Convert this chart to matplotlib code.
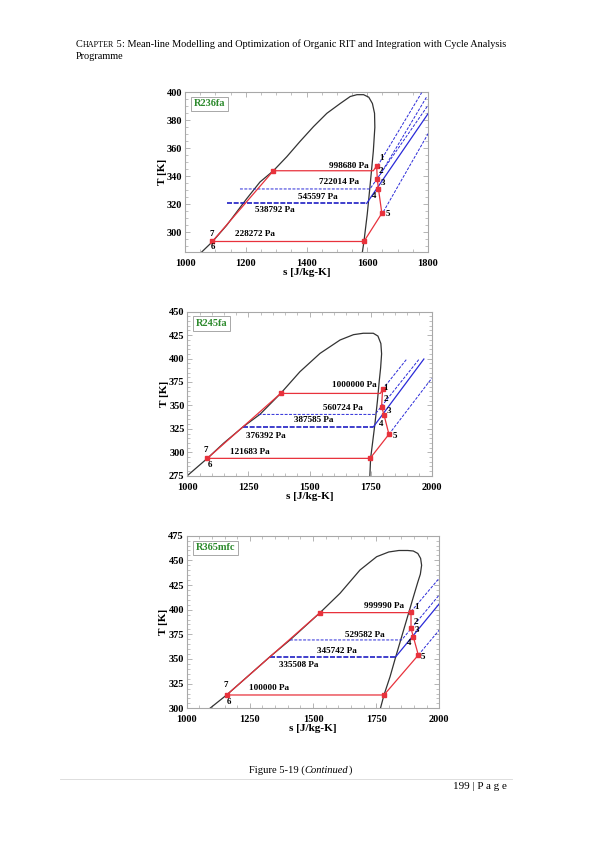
import matplotlib
matplotlib.use("Agg")
import matplotlib.pyplot as plt
from matplotlib.ticker import MultipleLocator

# ===================================================
# Data (s in J/kg-K, T in K)
# ===================================================

# --- R236fa ---
R236FA_DOME_S = [1055, 1090, 1137, 1203, 1247, 1291, 1335, 1379, 1423, 1467, 1511, 1544,
                 1566, 1588, 1605, 1617, 1624, 1625, 1620, 1610, 1600, 1589, 1584]
R236FA_DOME_T = [286, 293.3, 305, 324, 336, 344, 354, 365, 375.5, 385, 392, 397,
                 398.3, 398.3, 396.5, 392, 385, 375, 358, 335, 313, 293.3, 286]
R236FA_CYCLE_S = [1090, 1291, 1620, 1631, 1633, 1637, 1648, 1589, 1090]
R236FA_CYCLE_T = [293.5, 344, 344, 347.5, 338, 331, 313.6, 293.5, 293.5]
R236FA_MARK_S = [1090, 1291, 1631, 1633, 1637, 1648, 1589]
R236FA_MARK_T = [293.5, 344, 347.5, 338, 331, 313.6, 293.5]
R236FA_ISO_722_S = [1181, 1609, 1801]
R236FA_ISO_722_T = [331, 331, 391]
R236FA_ISO_545_S = [1137, 1598]
R236FA_ISO_545_T = [320.7, 320.7]
R236FA_DIAG_545_S = [1598, 1801]
R236FA_DIAG_545_T = [320.7, 385]
R236FA_DIAG_HI_S = [1634, 1779]
R236FA_DIAG_HI_T = [347.4, 399.7]
R236FA_DIAG_2_S = [1642, 1796]
R236FA_DIAG_2_T = [341, 396.9]
R236FA_DIAG_LO_S = [1653, 1801]
R236FA_DIAG_LO_T = [314.7, 370.7]
R236FA_PRESS = ["998680 Pa", "722014 Pa", "545597 Pa", "538792 Pa", "228272 Pa"]
R236FA_PRESS_S = [1540, 1507, 1436, 1296, 1229]
R236FA_PRESS_T = [347.4, 335.7, 325.2, 316, 298.8]
R236FA_NUM = ["1", "2", "3", "4", "5", "7", "6"]
R236FA_NUM_S = [1647, 1645, 1653, 1623, 1667, 1088, 1093]
R236FA_NUM_T = [352.9, 343.8, 335, 326, 313, 298.8, 289.8]

# --- R245fa ---
R245FA_DOME_S = [1000, 1082, 1150, 1229, 1297, 1382, 1461, 1543, 1625, 1680, 1720, 1761,
                 1780, 1792, 1795, 1791, 1785, 1778, 1768, 1758, 1750, 1747]
R245FA_DOME_T = [275, 293.5, 310, 327.3, 340.4, 362.8, 386, 405.5, 419.8, 425.5, 427, 427,
                 424, 416, 405, 390, 375, 355, 331, 310, 293.5, 275]
R245FA_CYCLE_S = [1082, 1382, 1790, 1799, 1795, 1805, 1825, 1748, 1082]
R245FA_CYCLE_T = [293.5, 362.8, 362.8, 367.2, 348.6, 339.8, 319.2, 293.5, 293.5]
R245FA_MARK_S = [1082, 1382, 1799, 1795, 1805, 1825, 1748]
R245FA_MARK_T = [293.5, 362.8, 367.2, 348.6, 339.8, 319.2, 293.5]
R245FA_ISO_560_S = [1291, 1768, 1949]
R245FA_ISO_560_T = [340.4, 340.4, 399.5]
R245FA_ISO_387_S = [1229, 1761]
R245FA_ISO_387_T = [327, 327]
R245FA_DIAG_387_S = [1761, 1968]
R245FA_DIAG_387_T = [327, 399.5]
R245FA_DIAG_HI_S = [1799, 1898]
R245FA_DIAG_HI_T = [367.2, 399.5]
R245FA_DIAG_LO_S = [1825, 2000]
R245FA_DIAG_LO_T = [319.2, 378.9]
R245FA_PRESS = ["1000000 Pa", "560724 Pa", "387585 Pa", "376392 Pa", "121683 Pa"]
R245FA_PRESS_S = [1682, 1638, 1518, 1322, 1254]
R245FA_PRESS_T = [371.7, 347.5, 334.4, 317.3, 299.9]
R245FA_NUM = ["1", "2", "3", "4", "5", "7", "6"]
R245FA_NUM_S = [1813, 1813, 1825, 1793, 1850, 1076, 1093]
R245FA_NUM_T = [368.2, 356.8, 344, 330, 317.3, 302.4, 286.4]

# --- R365mfc ---
R365MFC_DOME_S = [1092, 1158, 1240, 1330, 1409, 1528, 1607, 1686, 1752, 1800, 1840, 1875,
                  1897, 1915, 1926, 1930, 1925, 1915, 1894, 1871, 1848, 1825, 1805, 1781, 1767]
R365MFC_DOME_T = [300, 313.5, 332, 352.4, 369.3, 397, 416.6, 440.2, 453.7, 458.5, 460, 460,
                  459.5, 457, 452, 445, 436, 428, 410, 390, 370, 350, 332, 313.5, 300]
R365MFC_CYCLE_S = [1158, 1528, 1884, 1888, 1888, 1897, 1917, 1781, 1158]
R365MFC_CYCLE_T = [313.5, 397, 397, 398, 381.1, 372.6, 354, 313.5, 313.5]
R365MFC_MARK_S = [1158, 1528, 1888, 1888, 1897, 1917, 1781]
R365MFC_MARK_T = [313.5, 397, 398, 381.1, 372.6, 354, 313.5]
R365MFC_ISO_999_S = [1646, 1884]
R365MFC_ISO_999_T = [397.3, 397.3]
R365MFC_ISO_529_S = [1409, 1851, 2000]
R365MFC_ISO_529_T = [369.3, 369.3, 415]
R365MFC_ISO_345_S = [1330, 1828]
R365MFC_ISO_345_T = [352.4, 352.4]
R365MFC_DIAG_345_S = [1828, 2000]
R365MFC_DIAG_345_T = [352.4, 406]
R365MFC_DIAG_HI_S = [1888, 2000]
R365MFC_DIAG_HI_T = [398, 432]
R365MFC_DIAG_LO_S = [1917, 2000]
R365MFC_DIAG_LO_T = [354, 379.4]
R365MFC_PRESS = ["999990 Pa", "529582 Pa", "345742 Pa", "335508 Pa", "100000 Pa"]
R365MFC_PRESS_S = [1780, 1706, 1595, 1445, 1326]
R365MFC_PRESS_T = [404, 374.3, 358, 343.9, 320.3]
R365MFC_NUM = ["1", "2", "3", "4", "5", "7", "6"]
R365MFC_NUM_S = [1910, 1906, 1913, 1880, 1937, 1156, 1168]
R365MFC_NUM_T = [402.4, 387.8, 379.4, 366, 352.3, 323.6, 306.8]

# ===================================================
# Style
# ===================================================

SERIF = "Liberation Serif"
RED = "#e8323c"
BLUE = "#2a2ad8"
DOME = "#333333"
FRAME = "#a8a8a8"

W, H = 595, 842
fig = plt.figure(figsize=(W / 100, H / 100), dpi=100)


def px_axes(left, top, right, bottom):
    return fig.add_axes([left / W, 1 - bottom / H, (right - left) / W, (bottom - top) / H])


def style_axes(ax, xlim, ylim, xstep, ystep, xminor, yminor):
    ax.set_xlim(*xlim)
    ax.set_ylim(*ylim)
    ax.xaxis.set_major_locator(MultipleLocator(xstep))
    ax.yaxis.set_major_locator(MultipleLocator(ystep))
    ax.xaxis.set_minor_locator(MultipleLocator(xminor))
    ax.yaxis.set_minor_locator(MultipleLocator(yminor))
    ax.tick_params(which="both", direction="in", top=True, right=True, color=FRAME,
                   labelsize=7.5)
    ax.tick_params(axis="x", pad=5)
    ax.tick_params(axis="y", pad=2)
    ax.tick_params(which="major", length=3.5, width=0.6)
    ax.tick_params(which="minor", length=2, width=0.5)
    for lab in ax.get_xticklabels() + ax.get_yticklabels():
        lab.set_fontfamily(SERIF)
        lab.set_fontweight("bold")
    for sp in ax.spines.values():
        sp.set_color(FRAME)
        sp.set_linewidth(0.8)
    ax.set_xlabel("s [J/kg-K]", family=SERIF, fontweight="bold", fontsize=8, labelpad=0)
    ax.set_ylabel("T [K]", family=SERIF, fontweight="bold", fontsize=8, labelpad=0)


def draw_panel(ax, name, dome, cycle, marks, dashed, thick, solid, press, nums):
    ax.plot(dome[0], dome[1], color=DOME, lw=0.9, zorder=2)
    for s, t in dashed:
        ax.plot(s, t, color=BLUE, lw=0.7, ls=(0, (3, 1.5)), zorder=3)
    for s, t in thick:
        ax.plot(s, t, color="#1e1ec4", lw=1.2, ls=(0, (3, 1)), zorder=3)
    for s, t in solid:
        ax.plot(s, t, color=BLUE, lw=0.9, zorder=3)
    ax.plot(cycle[0], cycle[1], color=RED, lw=0.9, zorder=4)
    ax.plot(marks[0], marks[1], ls="none", marker="s", ms=2.6, color=RED, zorder=5)
    for lab, s, t in zip(*press):
        ax.text(s, t, lab, ha="center", va="center", family=SERIF, fontweight="bold",
                fontsize=6.6, zorder=6)
    for lab, s, t in zip(*nums):
        ax.text(s, t, lab, ha="center", va="center", family=SERIF, fontweight="bold",
                fontsize=6.5, zorder=6)
    ax.text(0.035, 0.955, name, transform=ax.transAxes, ha="left", va="top", family=SERIF,
            fontweight="bold", fontsize=7.5, color="#2d8a2d", zorder=7,
            bbox=dict(boxstyle="square,pad=0.25", fc="white", ec=FRAME, lw=0.7))


# --- Panel 1: R236fa ---
ax1 = px_axes(185, 92.3, 428, 252)
draw_panel(
    ax1, "R236fa",
    (R236FA_DOME_S, R236FA_DOME_T),
    (R236FA_CYCLE_S, R236FA_CYCLE_T),
    (R236FA_MARK_S, R236FA_MARK_T),
    [(R236FA_ISO_722_S, R236FA_ISO_722_T), (R236FA_DIAG_HI_S, R236FA_DIAG_HI_T),
     (R236FA_DIAG_2_S, R236FA_DIAG_2_T), (R236FA_DIAG_LO_S, R236FA_DIAG_LO_T)],
    [(R236FA_ISO_545_S, R236FA_ISO_545_T)],
    [(R236FA_DIAG_545_S, R236FA_DIAG_545_T)],
    (R236FA_PRESS, R236FA_PRESS_S, R236FA_PRESS_T),
    (R236FA_NUM, R236FA_NUM_S, R236FA_NUM_T),
)
style_axes(ax1, (1000, 1800), (286, 400), 200, 20, 50, 5)

# --- Panel 2: R245fa ---
ax2 = px_axes(187.3, 311.7, 431.7, 475.7)
draw_panel(
    ax2, "R245fa",
    (R245FA_DOME_S, R245FA_DOME_T),
    (R245FA_CYCLE_S, R245FA_CYCLE_T),
    (R245FA_MARK_S, R245FA_MARK_T),
    [(R245FA_ISO_560_S, R245FA_ISO_560_T), (R245FA_DIAG_HI_S, R245FA_DIAG_HI_T),
     (R245FA_DIAG_LO_S, R245FA_DIAG_LO_T)],
    [(R245FA_ISO_387_S, R245FA_ISO_387_T)],
    [(R245FA_DIAG_387_S, R245FA_DIAG_387_T)],
    (R245FA_PRESS, R245FA_PRESS_S, R245FA_PRESS_T),
    (R245FA_NUM, R245FA_NUM_S, R245FA_NUM_T),
)
style_axes(ax2, (1000, 2000), (275, 450), 250, 25, 50, 5)

# --- Panel 3: R365mfc ---
ax3 = px_axes(186.7, 535.7, 439.3, 708.3)
draw_panel(
    ax3, "R365mfc",
    (R365MFC_DOME_S, R365MFC_DOME_T),
    (R365MFC_CYCLE_S, R365MFC_CYCLE_T),
    (R365MFC_MARK_S, R365MFC_MARK_T),
    [(R365MFC_ISO_999_S, R365MFC_ISO_999_T), (R365MFC_ISO_529_S, R365MFC_ISO_529_T),
     (R365MFC_DIAG_HI_S, R365MFC_DIAG_HI_T), (R365MFC_DIAG_LO_S, R365MFC_DIAG_LO_T)],
    [(R365MFC_ISO_345_S, R365MFC_ISO_345_T)],
    [(R365MFC_DIAG_345_S, R365MFC_DIAG_345_T)],
    (R365MFC_PRESS, R365MFC_PRESS_S, R365MFC_PRESS_T),
    (R365MFC_NUM, R365MFC_NUM_S, R365MFC_NUM_T),
)
style_axes(ax3, (1000, 2000), (300, 475), 250, 25, 50, 5)

# ===================================================
# Page text (header, caption, footer)
# ===================================================

renderer = fig.canvas.get_renderer()


def run_text(x, y, pieces):
    # place text pieces one after another on a baseline (pixel coords, y from top)
    for txt, size, style in pieces:
        t = fig.text(x / W, 1 - y / H, txt, family=SERIF, fontsize=size, style=style,
                     ha="left", va="baseline")
        bb = t.get_window_extent(renderer)
        x += bb.width


run_text(76, 47, [("C", 7.4, "normal"), ("HAPTER", 5.9, "normal"), (" 5", 7.4, "normal"),
                  (": Mean-line Modelling and Optimization of Organic RIT and Integration "
                   "with Cycle Analysis", 7.4, "normal")])
run_text(76, 59, [("Programme", 7.4, "normal")])
run_text(249, 773, [("Figure 5-19 (", 7.6, "normal"), ("Continued", 7.6, "italic"),
                    (")", 7.6, "normal")])
fig.add_artist(plt.Line2D([60 / W, 512 / W], [1 - 779 / H, 1 - 779 / H],
                          color="#d8d8d8", lw=0.6))
fig.text(507 / W, 1 - 789 / H, "199 | P a g e", family=SERIF, fontsize=8,
         ha="right", va="baseline")

fig.savefig("out.png", dpi=100)
